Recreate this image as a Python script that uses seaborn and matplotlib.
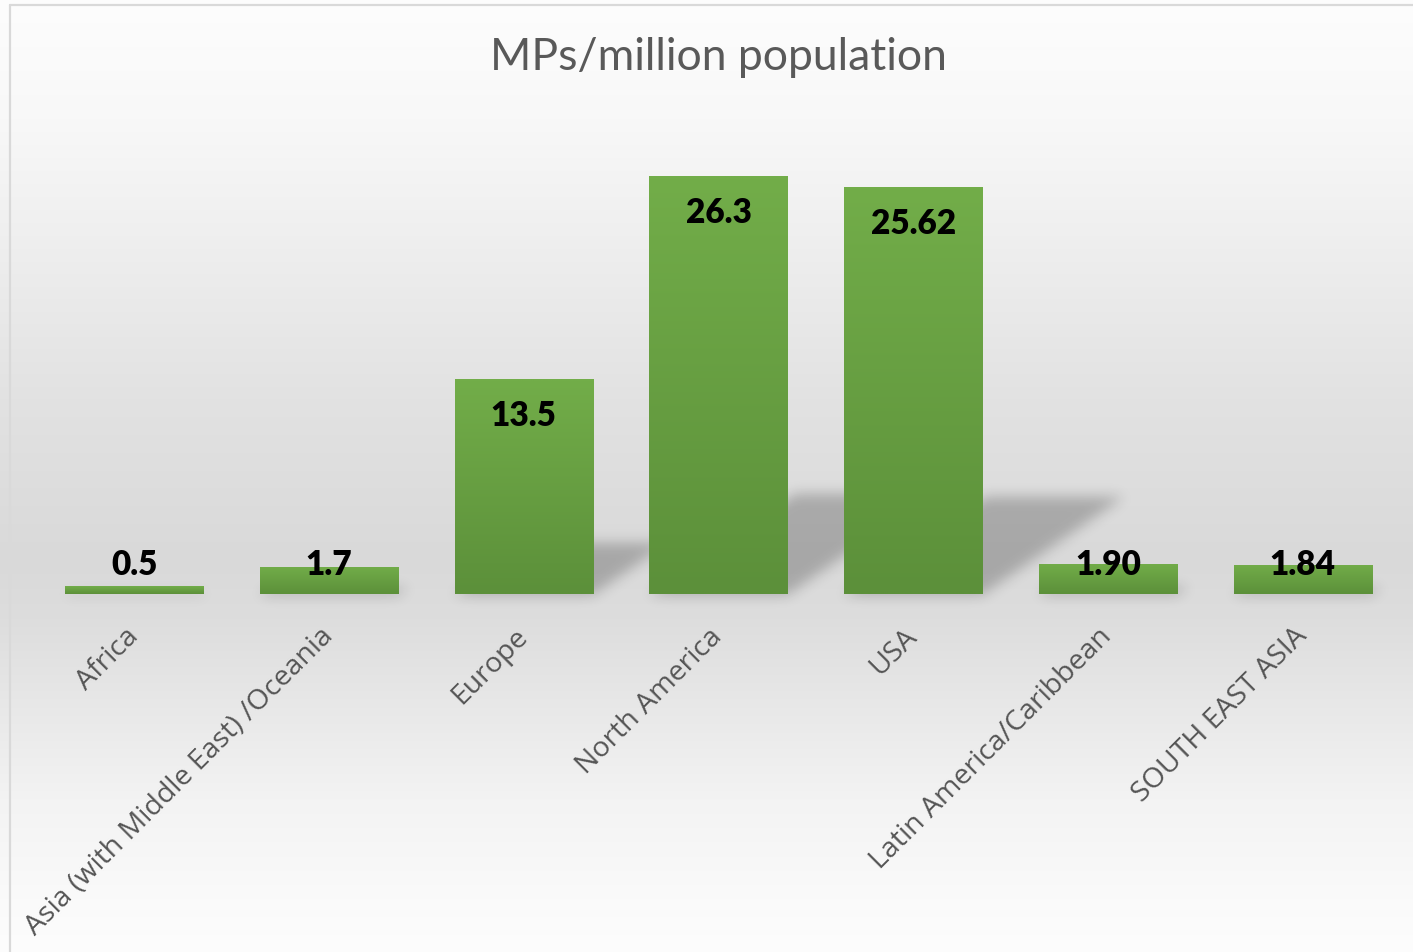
import numpy as np
import matplotlib
matplotlib.use("Agg")
import matplotlib.pyplot as plt
from matplotlib.lines import Line2D
from matplotlib.font_manager import FontProperties
import seaborn as sns

# --- data -------------------------------------------------------------
regions = ["Africa", "Asia (with Middle East) /Oceania", "Europe", "North America",
           "USA", "Latin America/Caribbean", "SOUTH EAST ASIA"]
values = [0.5, 1.7, 13.5, 26.3, 25.62, 1.90, 1.84]
value_labels = ["0.5", "1.7", "13.5", "26.3", "25.62", "1.90", "1.84"]
title = "MPs/million population"

# --- figure -----------------------------------------------------------
W, H, DPI = 1413, 953, 100
sns.set_theme(style="white")
plt.rcParams["font.family"] = ["Lato", "DejaVu Sans"]

fig = plt.figure(figsize=(W / DPI, H / DPI), dpi=DPI)

# soft grey backdrop, light at top and bottom, darkest behind the baseline
bg_ax = fig.add_axes([0, 0, 1, 1], zorder=-10)
ys = np.array([0, 120, 250, 400, 560, 620, 700, 800, 900, 953])
gs = np.array([253, 248, 238, 226, 217, 221, 231, 243, 250, 253]) / 255.0
rows = np.interp(np.arange(H), ys, gs)
bg = np.repeat(rows[:, None], 8, axis=1)
bg_ax.imshow(np.dstack([bg, bg, bg]), aspect="auto", extent=[0, 1, 0, 1], interpolation="bilinear")
bg_ax.set_axis_off()

# chart frame
fig.add_artist(Line2D([10 / W, 1], [1 - 6 / H, 1 - 6 / H], color="#d9d9d9", lw=1.6, transform=fig.transFigure))
fig.add_artist(Line2D([10 / W, 10 / W], [0, 1 - 6 / H], color="#d9d9d9", lw=1.6, transform=fig.transFigure))

YMAX = 30.0
base_px = 595
top_px = base_px - YMAX * 15.89
ax = fig.add_axes([37 / W, 1 - base_px / H, (1400 - 37) / W, (base_px - top_px) / H])
ax.set_facecolor("none")

bar_w = 0.71
sns.barplot(x=regions, y=values, color="#6aa543", saturation=1, width=bar_w, ax=ax, zorder=3,
            edgecolor="none", linewidth=0)
ax.set_xlim(-0.5, len(regions) - 0.5)
ax.set_ylim(0, YMAX)

# vertical gradient on each bar
grad = np.linspace(0, 1, 64)[:, None]
top_c = np.array([114, 173, 73]) / 255.0
bot_c = np.array([92, 144, 58]) / 255.0
grad_img = top_c[None, None, :] * (1 - grad[:, :, None]) + bot_c[None, None, :] * grad[:, :, None]
for p in ax.patches:
    x0, y0 = p.get_x(), p.get_y()
    w, h = p.get_width(), p.get_height()
    im = ax.imshow(grad_img, extent=[x0, x0 + w, y0, y0 + h], aspect="auto", zorder=4,
                   interpolation="bilinear")
    im.set_clip_path(p)

# slanted, blurred shadows cast by the bars
ax_w_px = 1400 - 37
ax_h_px = base_px - top_px
px_per_cat = ax_w_px / len(regions)
px_per_val = ax_h_px / YMAX
pad_below = 24
gw, gh = int(ax_w_px), int(ax_h_px) + pad_below
xx = -0.5 + (np.arange(gw) + 0.5) / px_per_cat
yy_px = (ax_h_px - (np.arange(gh) + 0.5))  # height above baseline in px
X, Y = np.meshgrid(xx, yy_px)
mask = np.zeros((gh, gw))
for k, v in enumerate(values):
    hs = 0.24 * v * px_per_val
    shift = 1.45 * Y / px_per_cat
    inside = (Y >= 0) & (Y <= hs) & (X >= k - bar_w / 2 + shift) & (X <= k + bar_w / 2 + shift)
    mask[inside] = 1.0

def blur(a, sigma):
    r = int(3 * sigma)
    kx = np.exp(-0.5 * (np.arange(-r, r + 1) / sigma) ** 2)
    kx /= kx.sum()
    out = np.zeros_like(a)
    padded = np.pad(a, ((0, 0), (r, r)))
    for i, wgt in enumerate(kx):
        out += wgt * padded[:, i:i + a.shape[1]]
    out2 = np.zeros_like(out)
    padded = np.pad(out, ((r, r), (0, 0)))
    for i, wgt in enumerate(kx):
        out2 += wgt * padded[i:i + a.shape[0], :]
    return out2

shadow = blur(mask, 6.5)
shadow_rgba = np.zeros((gh, gw, 4))
shadow_rgba[..., 3] = 0.23 * shadow
ax.imshow(shadow_rgba, extent=[-0.5, len(regions) - 0.5, -pad_below / px_per_val, YMAX],
          aspect="auto", zorder=2, interpolation="bilinear", clip_on=False)
ax.set_xlim(-0.5, len(regions) - 0.5)
ax.set_ylim(0, YMAX)

# value labels: just inside the bar top, but never below a minimum height
for k, (v, lab) in enumerate(zip(values, value_labels)):
    yc = max(v - 36 / px_per_val, 30 / px_per_val)
    ax.text(k, yc, lab, ha="center", va="center", fontsize=24, fontweight="heavy",
            color="#000000", zorder=6)

# axes styling
for s in ax.spines.values():
    s.set_visible(False)
ax.set_yticks([])
ax.set_ylabel("")
ax.set_xlabel("")
ax.set_xticks(range(len(regions)))
tick_font = FontProperties(family=["Open Sans", "DejaVu Sans"], size=20.5)
ax.set_xticklabels(regions, rotation=45, ha="right", va="center", rotation_mode="anchor",
                   fontproperties=tick_font, color="#555555")
ax.tick_params(axis="x", length=0, pad=27)

fig.text(718.5 / W, 1 - 58 / H, title, ha="center", va="center", fontsize=32,
         color="#595959", fontweight="normal")

fig.savefig("out.png", dpi=DPI)
